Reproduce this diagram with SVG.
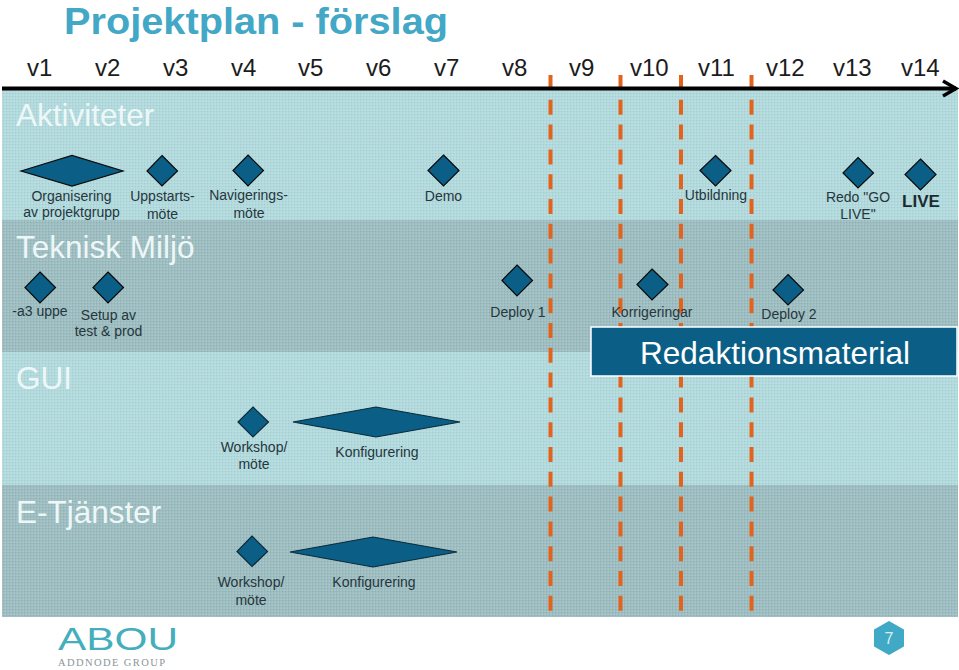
<svg xmlns="http://www.w3.org/2000/svg" width="959" height="670" viewBox="0 0 959 670">
<style>
text{font-family:"Liberation Sans",Arial,sans-serif}
.w{font-size:24px;fill:#1c1c1c}
.l{font-size:31.500px;fill:#eef7f8}
.s{font-size:14px;fill:#26363c;text-anchor:middle}
.d{fill:#0b5f87;stroke:#0a0a0a;stroke-width:1.200}
.dl{fill:#0b5f87;stroke:#0a2a3a;stroke-width:1.200}
.dash{fill:none;stroke:#e2641c;stroke-width:4;stroke-dasharray:15 9.800}
</style>
<defs>
<pattern id="dots" width="3" height="3" patternUnits="userSpaceOnUse"><rect width="1" height="1" fill="#000" fill-opacity=".06"/><rect x="1.500" y="1.500" width="1.500" height="1.500" fill="#fff" fill-opacity=".18"/></pattern>
</defs>
<rect width="959" height="670" fill="#fff"/>
<g id="bands">
<rect x="2" y="90" width="956" height="130" fill="#b0d9dc"/>
<rect x="2" y="220" width="956" height="132" fill="#9bbcbf"/>
<rect x="2" y="352" width="956" height="133" fill="#b0d9dc"/>
<rect x="2" y="485" width="956" height="132" fill="#9bbcbf"/>
<rect x="2" y="90" width="956" height="527" fill="url(#dots)"/>
</g>
<text x="64" y="34" font-size="37" font-weight="700" fill="#43a7c6" textLength="384" lengthAdjust="spacingAndGlyphs">Projektplan - förslag</text>
<g id="weeks">
<text class="w" x="27" y="76">v1</text><text class="w" x="95" y="76">v2</text><text class="w" x="163" y="76">v3</text><text class="w" x="231" y="76">v4</text><text class="w" x="298" y="76">v5</text><text class="w" x="366" y="76">v6</text><text class="w" x="434" y="76">v7</text><text class="w" x="502" y="76">v8</text><text class="w" x="569" y="76">v9</text><text class="w" x="630" y="76">v10</text><text class="w" x="698" y="76">v11</text><text class="w" x="766" y="76">v12</text><text class="w" x="833" y="76">v13</text><text class="w" x="901" y="76">v14</text>
</g>
<g id="connectors">
<path d="M550.500 75V611M620.500 75V611M681 75V611M751.500 75V611" class="dash"/>
<path d="M2 88.500H956" stroke="#000" stroke-width="4" fill="none"/>
<path d="M943 81L956 88.500L943 96" stroke="#000" stroke-width="3.500" fill="none"/>
</g>
<text class="l" x="16" y="126">Aktiviteter</text>
<text class="l" x="16" y="258">Teknisk Miljö</text>
<text class="l" x="16" y="389">GUI</text>
<text class="l" x="16" y="523">E-Tjänster</text>
<g id="n-org"><path class="d" d="M21 171L72 155.500L123 171L72 186Z"/><text class="s" x="71.500" y="201">Organisering</text><text class="s" x="71.500" y="217">av projektgrupp</text></g>
<g id="n-upp"><path class="d" d="M162 155.500L177.500 171L162 186L147 171Z"/><text class="s" x="162.500" y="201">Uppstarts-</text><text class="s" x="162.500" y="219">möte</text></g>
<g id="n-nav"><path class="d" d="M248 155L263.500 170.500L248 186L233 170.500Z"/><text class="s" x="248.500" y="200">Navigerings-</text><text class="s" x="249" y="218">möte</text></g>
<g id="n-demo"><path class="d" d="M443.500 155L459 170.500L443.500 186L428 170.500Z"/><text class="s" x="443.500" y="201">Demo</text></g>
<g id="n-utb"><path class="d" d="M715.500 155.500L731 170.500L715.500 186L700 170.500Z"/><text class="s" x="716" y="200">Utbildning</text></g>
<g id="n-redo"><path class="d" d="M858 157.500L873.500 173L858 188L843 173Z"/><text class="s" x="858" y="202">Redo "GO</text><text class="s" x="858" y="219">LIVE"</text></g>
<g id="n-live"><path class="d" d="M920.500 159L936 174.500L920.500 190L905 174.500Z"/><text x="921" y="207" font-size="17" font-weight="700" fill="#1a2a30" text-anchor="middle">LIVE</text></g>
<g id="n-a3"><path class="d" d="M40 272L55.500 287.500L40 303L25 287.500Z"/><text class="s" x="40" y="316">-a3 uppe</text></g>
<g id="n-setup"><path class="d" d="M108 272L123.500 287.500L108 303L93 287.500Z"/><text class="s" x="108.500" y="320">Setup av</text><text class="s" x="108.500" y="336">test &amp; prod</text></g>
<g id="n-dep1"><path class="d" d="M517 265L532.500 280.500L517 296L502 280.500Z"/><text class="s" x="518" y="317">Deploy 1</text></g>
<g id="n-korr"><path class="d" d="M652 269L668 284.500L652 300L637 284.500Z"/><text class="s" x="652" y="317">Korrigeringar</text></g>
<g id="n-dep2"><path class="d" d="M788 274.500L803.500 290L788 305L773 290Z"/><text class="s" x="789" y="319">Deploy 2</text></g>
<g id="n-red"><rect x="591" y="327" width="366" height="49" fill="#0b5f87" stroke="#fff" stroke-width="1.500"/><text x="775" y="364" font-size="32" fill="#fff" text-anchor="middle" textLength="270" lengthAdjust="spacingAndGlyphs">Redaktionsmaterial</text></g>
<g id="n-ws1"><path class="dl" d="M253 407L268.500 422L253 437L238 422Z"/><text class="s" x="254" y="452">Workshop/</text><text class="s" x="254" y="469">möte</text></g>
<g id="n-konf1"><path class="dl" d="M293 422L376 407L460 422L376 437Z"/><text class="s" x="377" y="457">Konfigurering</text></g>
<g id="n-ws2"><path class="dl" d="M252 536L267.500 551.500L252 566.500L237 551.500Z"/><text class="s" x="251" y="587">Workshop/</text><text class="s" x="251" y="605">möte</text></g>
<g id="n-konf2"><path class="dl" d="M290 552L373 537L457 552L373 567Z"/><text class="s" x="374" y="587">Konfigurering</text></g>
<g id="logo">
<text x="58" y="650" font-size="31" fill="#45aebd" textLength="120" lengthAdjust="spacingAndGlyphs">ABOU</text>
<text x="58" y="666" font-size="10.500" fill="#8a9599" style="font-family:'Liberation Serif',serif" textLength="107">ADDNODE GROUP</text>
</g>
<g id="page"><path d="M889 622L903 630V646L889 654L875 646V630Z" fill="#3fa9c6" stroke="#3fa9c6" stroke-width="2" stroke-linejoin="round"/><text x="889" y="644" font-size="16" fill="#d8eef4" text-anchor="middle">7</text></g>
</svg>
